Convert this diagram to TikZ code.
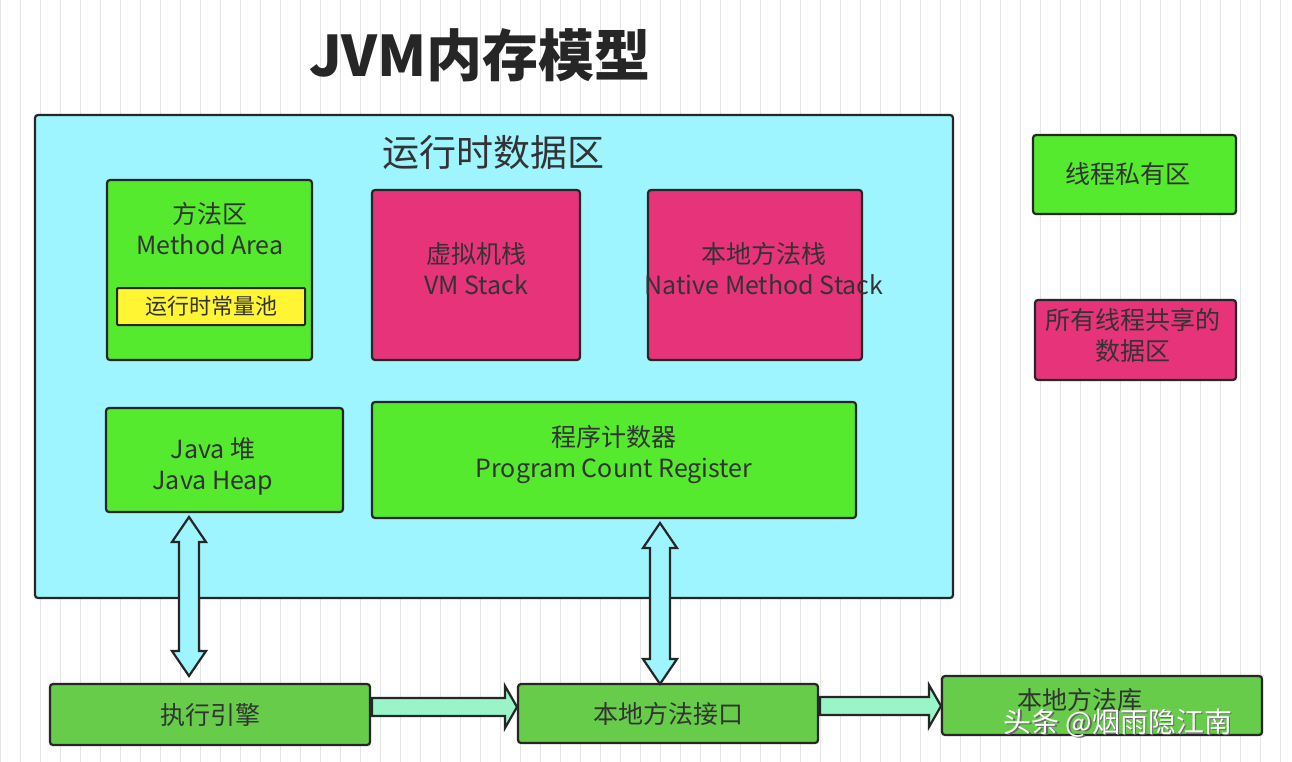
\documentclass[tikz,border=0pt]{standalone}
\usepackage{fontspec}
\setmainfont{Noto Sans CJK SC}
\begin{document}
\begin{tikzpicture}[x=1pt,y=-1pt,
 box/.style={draw=black!85,line width=2.2pt,rounded corners=3pt},
 green/.style={box,fill=grn},
 pink/.style={box,fill=pnk},
 bgreen/.style={box,fill=bgr},
 txt/.style={font=\fontsize{25}{31}\selectfont,align=center,text=black!80},
 barrow/.style={draw=black!85,line width=2.2pt,line join=miter}]
\definecolor{grn}{HTML}{55EA2E}
\definecolor{pnk}{HTML}{E6337A}
\definecolor{bgr}{HTML}{66CC4A}
\definecolor{cyn}{HTML}{9EF5FF}
\definecolor{hgr}{HTML}{99F5C8}
\useasboundingbox (0,0) rectangle (1292,762);
\fill[white] (0,0) rectangle (1292,762);
\draw[black!10,line width=0.6pt,step=20] (0,0) grid (1292,762);
\node[font=\bfseries\fontsize{56}{62}\selectfont,text=black!85] (title) at (480,55) {JVM内存模型};
\draw[box,fill=cyn] (35,115) rectangle (953,598);
\node (cyanbox) at (494,356) {};
\node[font=\fontsize{37}{42}\selectfont,text=black!80] (rt) at (493,152) {运行时数据区};
% method area
\draw[green] (107,180) rectangle (312,360);
\node[txt] (ma) at (210,229) {方法区\\Method Area};
\draw[box,fill=yellow!80!white,line width=2pt,rounded corners=1pt] (117,288) rectangle (305,325);
\node[txt,font=\fontsize{22}{26}\selectfont] (pool) at (211,306) {运行时常量池};
\draw[pink] (372,190) rectangle (580,360);
\node[txt] (vm) at (476,269) {虚拟机栈\\VM Stack};
\draw[pink] (648,190) rectangle (862,360);
\node[txt] (nm) at (764,269) {本地方法栈\\Native Method Stack};
\draw[green] (106,408) rectangle (343,512);
\node[txt] (heap) at (213,466) {Java 堆\\Java Heap};
\draw[green] (372,402) rectangle (856,518);
\node[txt] (pc) at (614,455) {程序计数器\\Program Count Register};
% legend
\draw[green] (1033,135) rectangle (1236,214);
\node[txt] (l1) at (1128,174) {线程私有区};
\draw[pink] (1035,300) rectangle (1236,380);
\node[txt] (l2) at (1133,335) {所有线程共享的\\数据区};
% bottom
\draw[bgreen] (50,684) rectangle (370,745);
\node[txt] (ee) at (210,715) {执行引擎};
\draw[bgreen] (518,684) rectangle (818,743);
\node[txt] (ni) at (668,714) {本地方法接口};
\draw[bgreen] (942,676) rectangle (1262,735);
\node[txt] (nl) at (1080,700) {本地方法库};
% vertical double arrows
\foreach \x/\a/\b in {189/517/676,660/523/684}{
 \draw[barrow,fill=cyn] (\x,\a) -- (\x+17,\a+25) -- (\x+10,\a+25) -- (\x+10,\b-25) -- (\x+17,\b-25) -- (\x,\b) -- (\x-17,\b-25) -- (\x-10,\b-25) -- (\x-10,\a+25) -- (\x-17,\a+25) -- cycle;}
% horizontal arrows
\foreach \a/\b/\y in {372/517/707,820/941/706}{
 \draw[barrow,fill=hgr] (\a,\y-9) -- (\b-12,\y-9) -- (\b-12,\y-21) -- (\b,\y) -- (\b-12,\y+21) -- (\b-12,\y+9) -- (\a,\y+9) -- cycle;}
% watermark
\node[font=\fontsize{28}{32}\selectfont,text=black!60,anchor=west] (wm0) at (1001.5,724.5) {头条 @烟雨隐江南};
\node[font=\fontsize{28}{32}\selectfont,text=white,anchor=west] (wm) at (1000,723) {头条 @烟雨隐江南};
\end{tikzpicture}
\end{document}
